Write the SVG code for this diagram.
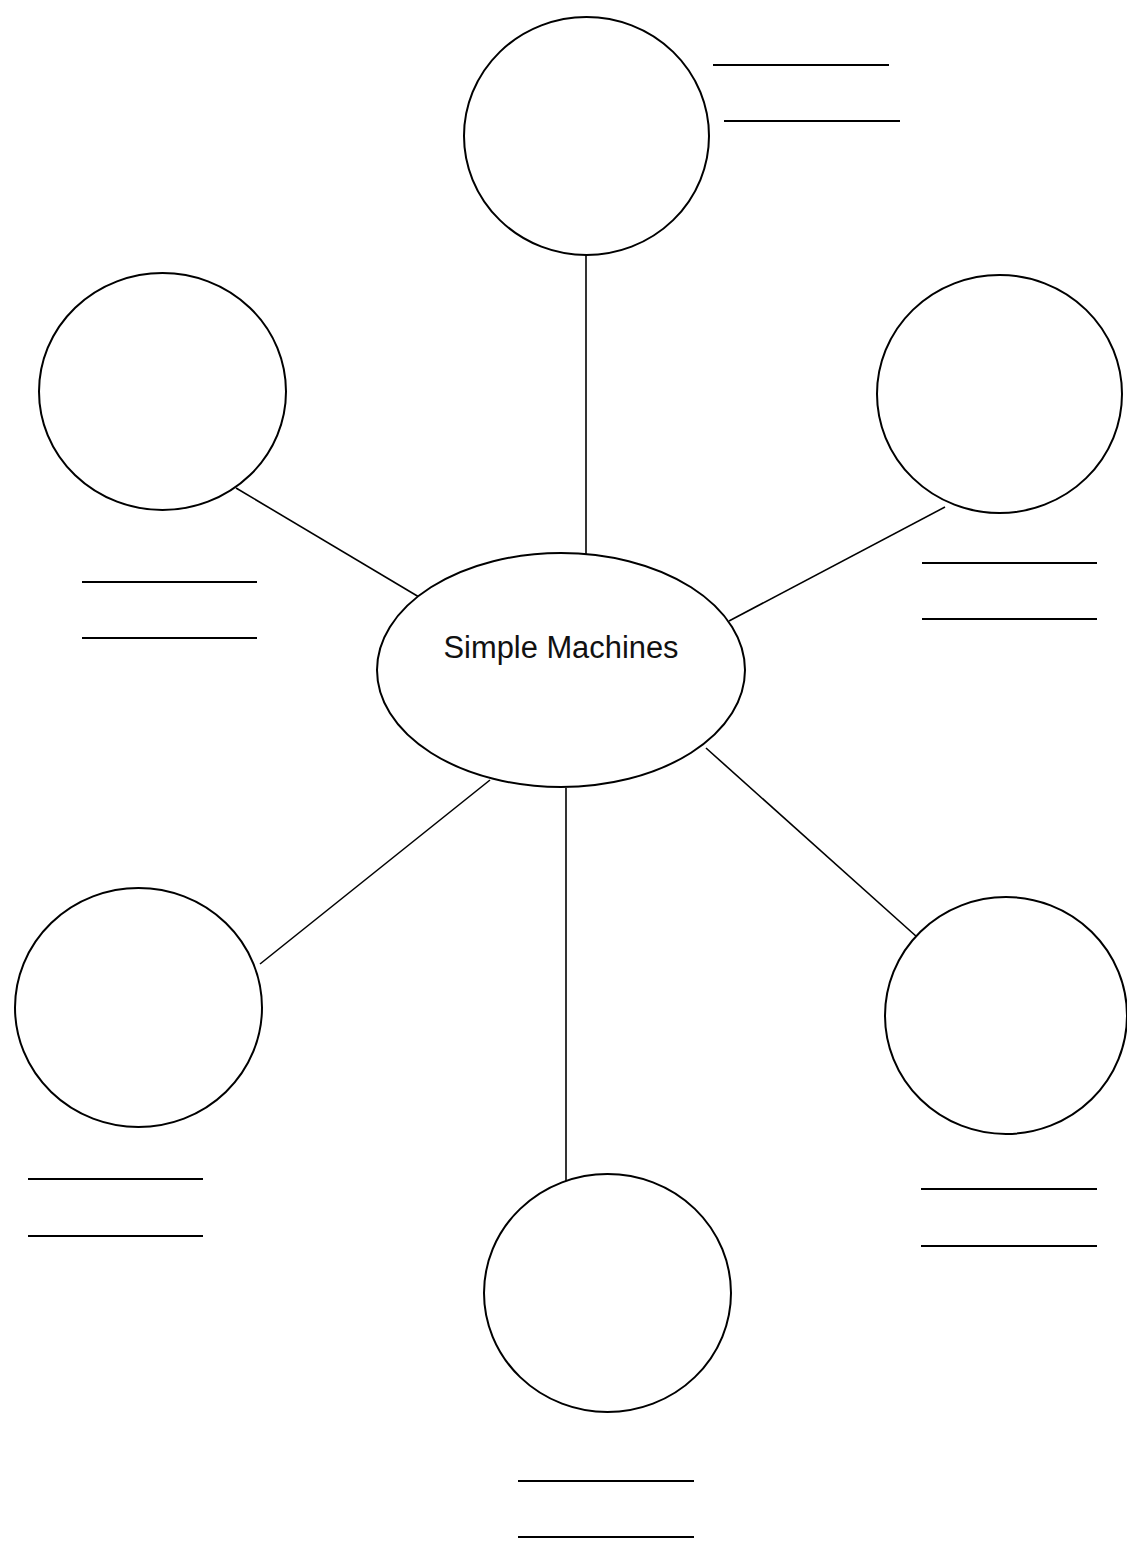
<svg xmlns="http://www.w3.org/2000/svg" width="1127" height="1543" viewBox="0 0 1127 1543">
<style>
.node{fill:#fff;stroke:#000;stroke-width:2}
.blank{stroke:#000;stroke-width:2}
.conn{stroke:#000;stroke-width:1.6;fill:none}
.label{font-family:"Liberation Sans",Arial,sans-serif;font-size:31px;fill:#111;text-anchor:middle}
</style>
<rect width="1127" height="1543" fill="#fff"/>
<g id="connectors">
<line class="conn" x1="586" y1="255" x2="586" y2="554"/>
<line class="conn" x1="236" y1="488" x2="419" y2="597"/>
<line class="conn" x1="945" y1="507" x2="729" y2="621"/>
<line class="conn" x1="490" y1="780" x2="260" y2="964"/>
<line class="conn" x1="706" y1="748" x2="917" y2="937"/>
<line class="conn" x1="566" y1="788" x2="566" y2="1188"/>
</g>
<g id="center">
<ellipse class="node" cx="561" cy="670" rx="184" ry="117"/>
<text class="label" x="561" y="658" textLength="235" lengthAdjust="spacingAndGlyphs">Simple Machines</text>
</g>
<g id="top">
<ellipse class="node" cx="586.5" cy="136" rx="122.5" ry="119"/>
<line class="blank" x1="713" y1="65" x2="889" y2="65"/>
<line class="blank" x1="724" y1="121" x2="900" y2="121"/>
</g>
<g id="upper-left">
<ellipse class="node" cx="162.5" cy="391.5" rx="123.5" ry="118.5"/>
<line class="blank" x1="82" y1="582" x2="257" y2="582"/>
<line class="blank" x1="82" y1="638" x2="257" y2="638"/>
</g>
<g id="upper-right">
<ellipse class="node" cx="999.5" cy="394" rx="122.5" ry="119"/>
<line class="blank" x1="922" y1="563" x2="1097" y2="563"/>
<line class="blank" x1="922" y1="619" x2="1097" y2="619"/>
</g>
<g id="lower-left">
<ellipse class="node" cx="138.5" cy="1007.5" rx="123.5" ry="119.5"/>
<line class="blank" x1="28" y1="1179" x2="203" y2="1179"/>
<line class="blank" x1="28" y1="1236" x2="203" y2="1236"/>
</g>
<g id="lower-right">
<ellipse class="node" cx="1006" cy="1015.5" rx="121" ry="118.5"/>
<line class="blank" x1="921" y1="1189" x2="1097" y2="1189"/>
<line class="blank" x1="921" y1="1246" x2="1097" y2="1246"/>
</g>
<g id="bottom">
<ellipse class="node" cx="607.5" cy="1293" rx="123.5" ry="119"/>
<line class="blank" x1="518" y1="1481" x2="694" y2="1481"/>
<line class="blank" x1="518" y1="1537" x2="694" y2="1537"/>
</g>
</svg>
